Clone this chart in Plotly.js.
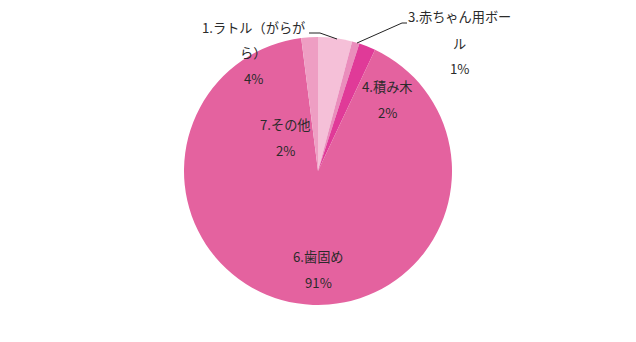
<!DOCTYPE html>
<html>
<head>
<meta charset="utf-8">
<script src="https://cdn.plot.ly/plotly-3.0.1.min.js"></script>
<style>html,body{margin:0;padding:0;background:#fff;}#chart{width:636px;height:342px;}</style>
</head>
<body>
<div id="chart"></div>
<script>
const categories = ["1.ラトル（がらがら）", "3.赤ちゃん用ボール", "4.積み木", "6.歯固め", "7.その他"];
const values = [4.1, 0.9, 2.0, 91.0, 2.0];
const pctLabels = ["4%", "1%", "2%", "91%", "2%"];
const colors = ["#F5C0D8", "#EA8DBC", "#E03A98", "#E4629F", "#EE9EC3"];

const W = 636, H = 342;
const px = x => x / W;
const py = y => (H - y) / H;
const font = {family: "'Noto Sans CJK JP', 'Noto Sans', sans-serif", size: 13.2, color: "#2b2b2b"};

// label layout: lines of each category label, with pixel anchors
const labelLayout = [
  {lines: ["1.ラトル（がらが", "ら）"], x: 253, y: [27, 52], py: 78},
  {lines: ["3.赤ちゃん用ボー", "ル"], x: 460, y: [16, 43], py: 68},
  {lines: ["4.積み木"], x: 387, y: [86], py: 112},
  {lines: ["6.歯固め"], x: 318, y: [256], py: 282},
  {lines: ["7.その他"], x: 285, y: [124], py: 150}
];

const annotations = [];
labelLayout.forEach((L, i) => {
  L.lines.forEach((t, j) => {
    annotations.push({text: t, x: px(L.x), y: py(L.y[j]), xref: 'paper', yref: 'paper',
      showarrow: false, font: font, xanchor: 'center', yanchor: 'middle'});
  });
  annotations.push({text: pctLabels[i], x: px(L.x), y: py(L.py), xref: 'paper', yref: 'paper',
    showarrow: false, font: font, xanchor: 'center', yanchor: 'middle'});
});

const leader = pts => ({type: 'path', xref: 'paper', yref: 'paper',
  path: pts.map((p, k) => (k ? 'L' : 'M') + px(p[0]) + ',' + py(p[1])).join(' '),
  line: {color: '#222', width: 1}});

const cx = 318, cy = 171, r = 134;

Plotly.newPlot('chart', [{
  type: 'pie',
  labels: categories,
  values: values,
  sort: false,
  direction: 'clockwise',
  rotation: 0,
  textinfo: 'none',
  hoverinfo: 'label+percent',
  marker: {colors: colors, line: {width: 0}},
  domain: {x: [px(cx - r), px(cx + r)], y: [py(cy + r), py(cy - r)]}
}], {
  width: W, height: H,
  margin: {l: 0, r: 0, t: 0, b: 0},
  showlegend: false,
  paper_bgcolor: '#fff',
  annotations: annotations,
  shapes: [
    leader([[309, 33], [320, 33], [337, 39]]),
    leader([[407, 23], [402, 23], [357, 43]])
  ]
}, {displayModeBar: false, staticPlot: true});
</script>
</body>
</html>
